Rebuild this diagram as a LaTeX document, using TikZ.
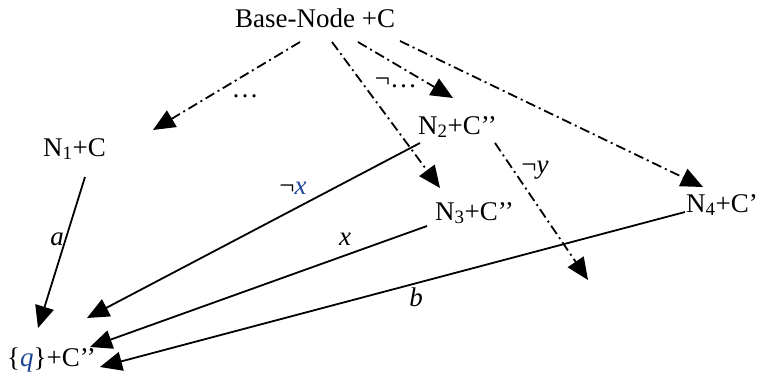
\documentclass[tikz,border=0pt]{standalone}
\usepackage{fontspec}
\setmainfont{Liberation Serif}
\usetikzlibrary{arrows.meta}
\definecolor{qblue}{RGB}{30,70,150}
\begin{document}
\begin{tikzpicture}[x=1pt,y=-1pt,
  lbl/.style={font=\fontsize{27}{31}\selectfont, inner sep=0pt, anchor=base west},
  elbl/.style={font=\fontsize{27}{31}\selectfont, inner sep=0pt, anchor=base},
  tip/.style={-{Triangle[length=22pt,width=19pt]}},
  solidarrow/.style={line width=1.8pt, tip},
  dotarrow/.style={line width=1.8pt, dash pattern=on 10pt off 4pt on 2pt off 4pt, tip}]
\useasboundingbox (0,0) rectangle (757,383);

% nodes
\node[lbl] (base) at (235,27) {Base-Node +C};
\node[lbl] (n1) at (43,156) {N\textsubscript{1}+C};
\node[lbl] (n2) at (418,134) {N\textsubscript{2}+C’’};
\node[lbl] (n3) at (435,220) {N\textsubscript{3}+C’’};
\node[lbl] (n4) at (686,212) {N\textsubscript{4}+C’};
\node[lbl] (q) at (7,366) {\{\textcolor{qblue}{\textit{q}}\}+C’’};

% connector end points
\coordinate (b1) at (300,42);  \coordinate (e1) at (153,130);
\coordinate (b2) at (332,42);  \coordinate (e2) at (440,188);
\coordinate (b3) at (358,42);  \coordinate (e3) at (453,98);
\coordinate (b4) at (400,41);  \coordinate (e4) at (703,187);
\coordinate (n2s) at (495,143); \coordinate (e5) at (588,280);
\coordinate (n1s) at (85,177);  \coordinate (qa) at (38,328);
\coordinate (n2w) at (420,143); \coordinate (qb) at (87,318);
\coordinate (n3w) at (427,226); \coordinate (qc) at (90,347);
\coordinate (n4w) at (685,212); \coordinate (qd) at (100,367);

% dash-dotted connectors
\draw[dotarrow] (b1) -- (e1);
\draw[dotarrow] (b2) -- (e2);
\draw[dotarrow] (b3) -- (e3);
\draw[dotarrow] (b4) -- (e4);
\draw[dotarrow] (n2s) -- (e5);

% solid connectors
\draw[solidarrow] (n1s) -- (qa);
\draw[solidarrow] (n2w) -- (qb);
\draw[solidarrow] (n3w) -- (qc);
\draw[solidarrow] (n4w) -- (qd);

% labels
\node[elbl] (la) at (57,245) {\textit{a}};
\node[elbl] (lnx) at (293,194) {¬\textcolor{qblue}{\textit{x}}};
\node[elbl] (lx) at (345,245) {\textit{x}};
\node[elbl] (lb) at (416,306) {\textit{b}};
\node[elbl] (lny) at (535,173) {¬\textit{y}};
\node[elbl] (ldots) at (245,97) {…};
\node[elbl] (lndots) at (396,87) {¬…};
\end{tikzpicture}
\end{document}
